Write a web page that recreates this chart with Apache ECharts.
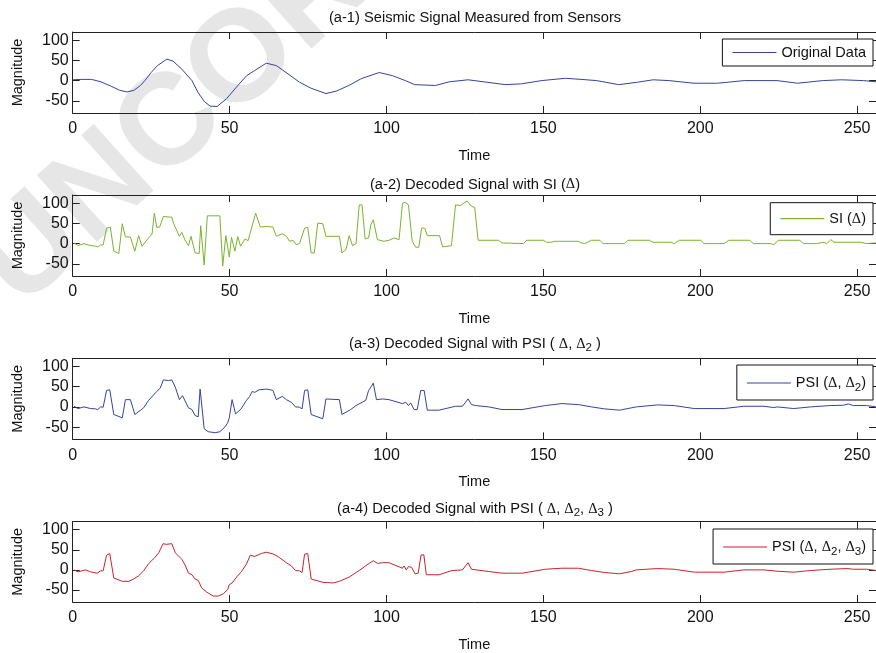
<!DOCTYPE html>
<html>
<head>
<meta charset="utf-8">
<script src="https://cdn.jsdelivr.net/npm/echarts@6/dist/echarts.min.js"></script>
<style>
  html, body { margin: 0; padding: 0; background: #fff; }
  #chart { width: 876px; height: 653px; }
</style>
</head>
<body>
<div id="chart"></div>
<script>
// tick positions
const xTicks = [0, 50, 100, 150, 200, 250];
const yTicks = [-50, 0, 50, 100];

// panel titles (rich text, {s|..} = subscript, {d|..} = delta)
const titles = [
  '(a-1) Seismic Signal Measured from Sensors',
  '(a-2) Decoded Signal with SI ({d|Δ})',
  '(a-3) Decoded Signal with PSI ( {d|Δ}, {d|Δ}{s|2} )',
  '(a-4) Decoded Signal with PSI ( {d|Δ}, {d|Δ}{s|2}, {d|Δ}{s|3} )'
];
const names = ['Original Data', 'SI (Δ)', 'PSI (Δ, Δ2)', 'PSI (Δ, Δ2, Δ3)'];
const colors = ['#35439c', '#7ab32e', '#35439c', '#c8232c'];

// values as [time, magnitude]
const original = [
  [0,2],[3,3],[6,3],[9,-3],[12,-13],[15,-24],[17.3,-28],[19.5,-24],[21.6,-12],[23,0],
  [25,20],[27,37],[30,53],[32,48],[34.8,28],[38,0],[40,-30],[42,-52],[43.8,-63],[46,-64],
  [49,-45],[52.2,-16],[55.4,12],[58,25],[61.7,43],[64.9,37],[68,20],[72.3,-4],[76,-19],
  [80.7,-32],[84,-26],[88,-12],[92,5],[97.7,20],[102,12],[106,0],[109,-10],[115.6,-12],
  [120,-3],[126,2],[132,-4],[137.8,-10],[143,-8],[149.4,0],[157,5.7],[162,3],[167,0],
  [174,-10],[180,-4],[185,2],[190,0],[198,-6.5],[205.5,-6.5],[214,0],[224.5,0],[231,-6.5],
  [239,0],[245,2],[252,0],[256,-3]
];
const si = [
  [0.4,1.6],[1.7,-4.9],[3.6,0],[5.2,-4],[7.3,-6.5],[8,-8.2],[8.9,-3.3],[9.7,-3.3],[10.8,38],
  [12,40.8],[13.1,-18.8],[14.7,-24.5],[15.8,49],[16.8,16.3],[18.4,16.3],[19.8,-18.8],[21,19.6],
  [22.1,-6.5],[22.6,-5],[24.2,14],[25.3,23.7],[26,75],[26.8,40],[27.7,40.8],[28.9,67],[31.6,65],
  [32.1,50.6],[34,18],[34.8,27.8],[35.8,8.2],[36.9,-5],[37.7,18],[39,-22.9],[40.3,-24.5],
  [40.8,44],[41.9,-53],[42.9,68.6],[46.9,68.6],[47.8,-55.5],[48.8,19.6],[49.9,-33.5],[50.6,15.5],
  [51.7,-18.8],[52.6,17.2],[53.5,-6.5],[54.9,11.4],[55.9,7.3],[58.3,75],[58.9,75],[59.8,40.8],
  [61.7,42.5],[63.8,40.8],[64.9,18],[66.8,24.5],[68.1,18],[69.1,5.7],[70.2,8.2],[71.2,-2.4],
  [72.3,0],[72.8,-4.9],[73.9,38.1],[74.9,40.6],[76,-22.9],[77,-22.9],[78.1,50.6],[79.7,49],
  [80.7,18],[85,18],[85.8,-22.9],[87.1,-14.7],[88.1,19.6],[89.2,-4.9],[90.3,0],[91.3,95.6],
  [92.2,95.6],[93.2,11.4],[94.3,14],[95,46.6],[95.8,58.8],[97.1,9.8],[99.2,5.7],[100.8,8.2],
  [102.4,14],[104,9.8],[105.1,99.6],[105.9,102],[107,95.6],[108.2,5.7],[109.3,-9],[110.3,-9],
  [111.2,38.1],[112.2,38.1],[113,19.6],[116.9,19.6],[117.9,-8.2],[120.7,-4.9],[122,95.6],
  [123.5,94],[125.7,105.3],[127.2,91.4],[128.1,89.8],[129.2,8.2],[135.7,8.2],[136.8,1.6],
  [143.6,0],[144.7,8.2],[150,8.2],[151,3.3],[152.6,3.3],[153.7,5.7],[161.1,5.7],[162.1,1.6],
  [163.2,0],[165.3,8.2],[168,8.2],[169,0],[175.9,0],[176.9,8.2],[183.8,8.2],[184.9,3.3],
  [190.6,3.3],[191.7,0],[193.3,8.2],[200.2,8.2],[201.1,0],[207.6,0],[209.1,8.2],[215.8,8.2],
  [216.9,0],[222.4,0],[223.4,-2.4],[225,8.2],[231.7,8.2],[232.9,0],[237.1,0],[239.3,3.3],
  [240.3,0],[241.6,9.8],[242.6,3.3],[250.9,3.3],[253,0],[256,1.6]
];
const psi2 = [
  [0.4,1.6],[1.7,-4.1],[3.6,0],[5.7,-4.1],[7.3,-4.9],[8,-6.5],[8.9,0],[9.7,-0.8],[10.8,40.6],
  [11.8,42.2],[13.1,-18.8],[15.8,-27],[16.8,17.9],[18.4,17.9],[19.8,-18.8],[22.6,-2.4],
  [24.2,16.3],[26.8,38.1],[27.9,46.3],[28.9,66.7],[30.5,65.1],[31.6,66.7],[32.7,48.8],[34,17.9],
  [35,27.7],[36.9,-2.4],[38,-6.5],[39,-21.2],[40,-24.5],[40.6,44],[41.9,-54],[43.2,-61.3],
  [45.4,-63.7],[46.9,-61.3],[48.5,-49.8],[49.4,-39.2],[49.9,-27],[50.8,17.9],[51.9,-17.2],
  [53.5,-6.5],[55.4,16.3],[56.4,26.1],[57.2,38.1],[58,35.9],[59.4,42.2],[61.7,44],[63,42.2],
  [63.8,40.6],[64.9,17.9],[66.8,26.1],[68.1,17.9],[69.7,11.4],[71,0],[72.3,-0.8],[73.1,-4.9],
  [73.9,40.6],[74.9,42.2],[76,-18.8],[79.7,-29.4],[80.7,19.6],[85,17.9],[85.8,-18.8],
  [88.6,-6.5],[90.3,3.3],[93.4,16.3],[94.3,40.6],[95,48.8],[95.8,58.7],[96.8,17.9],[98.8,19.6],
  [100.8,17.9],[105.1,8.2],[106.1,11.4],[107,3.3],[107.7,9.8],[108.8,-6.5],[109.8,-6.5],
  [110.9,40.6],[112,40.6],[113,-8.1],[116.7,-8.1],[122,1.6],[124.2,1.6],[126,19.6],[127.1,5.7],
  [128.4,3.3],[132.6,0],[136.8,-6.5],[143.2,-6.5],[150.6,3.3],[155.9,8.2],[161.2,5.7],
  [165.3,0],[169.5,-4.9],[174.3,-8.1],[178,-2.4],[179.6,0],[186.4,4.9],[191.7,3.3],[198.1,-4.1],
  [207.6,-4.1],[213.9,1.6],[220.3,1.6],[223.4,-1.6],[224.5,0],[229.8,-4.1],[235.1,0],
  [241.4,3.3],[245.6,4.1],[247.2,7.3],[248.8,3.3],[253,3.3],[256,0]
];
const psi3 = [
  [0.4,0],[1.7,-4.9],[4.1,0],[5.7,-4.9],[7.8,-8.2],[8.9,-2.4],[9.7,-2.4],[10.8,36.7],
  [11.8,40.8],[13.1,-20.4],[15.8,-28.5],[17.9,-28.5],[19.4,-22.8],[21,-14.7],[22.6,-2.4],
  [24.2,15.5],[26,29.4],[27.4,42.4],[28.8,65.2],[29.8,63.6],[31.6,65.2],[32.7,42.4],[34.8,26.1],
  [35.8,12.2],[36.9,-8.2],[38,-12.2],[39,-22.8],[40,-26.1],[41.1,-44.8],[42.7,-55.4],
  [44.8,-65.2],[46.4,-65.2],[48,-59.5],[49.4,-48.9],[49.9,-36.7],[50.8,-32.6],[52.4,-16.3],
  [53.8,-4.1],[55.4,14.7],[56.6,36.7],[58,33.4],[60.1,40.8],[61.7,44],[63.8,39.9],[65.4,33.4],
  [68.1,17.9],[69.7,9.8],[71,-1.6],[72.3,-2.4],[73.1,-6.5],[73.9,39.1],[74.9,40.8],[76,-22.8],
  [79.7,-31],[82.9,-32.6],[85,-28.5],[88.1,-17.9],[91.3,-1.6],[94.5,16.3],[95.8,22.8],
  [97.1,16.3],[98.8,17.9],[100.8,17.9],[105.1,4.1],[105.6,9.8],[106.3,0],[107,8.2],[108,6.5],
  [109.1,-9.8],[110.1,-8.2],[111,36.7],[111.9,37.5],[112.7,-12.2],[116.7,-12.2],[120.9,-1.6],
  [124.2,0],[126,17.9],[127.1,1.6],[132.6,-4.1],[136.8,-8.2],[143.2,-8.2],[150.6,1.6],
  [155.9,4.1],[161.2,4.1],[165.3,-1.6],[169.5,-6.5],[174.3,-9.8],[178,-4.1],[179.6,0],
  [186.4,3.3],[191.7,1.6],[198.1,-5.7],[207.6,-5.7],[213.9,0],[220.3,0],[224.5,-3.3],
  [229.8,-5.7],[235.1,-1.6],[241.4,1.6],[246.7,3.3],[248.8,1.6],[253,1.6],[256,-1.6]
];
const panels = [original, si, psi2, psi3];

const font = '"Liberation Sans", Arial, sans-serif';
const richText = {
  d: { fontFamily: '"Liberation Serif", serif', fontSize: 14.5, lineHeight: 20 },
  s: { fontSize: 11.5, lineHeight: 6, verticalAlign: 'bottom' }
};

// layout of the four panels
const gridTops = [32, 195, 358.3, 521.7];
const legendTops = [39, 202.7, 365, 529];
const legendPad = [[6, 7, 6, 10], [6, 7, 6, 10], [7, 7, 6, 10], [7, 7, 6, 10]];
const titleTops = [7.5, 174.5, 334, 499];

function toRich(name) {
  return name.replace(/Δ(\d)/g, '{d|Δ}{s|$1}').replace(/Δ(?![}])/g, '{d|Δ}');
}

const chart = echarts.init(document.getElementById('chart'));

const grid = [], xAxis = [], yAxis = [], series = [], title = [], legend = [];
const axisLine = { show: true, onZero: false, lineStyle: { color: '#222', width: 1 } };

panels.forEach((data, i) => {
  grid.push({ left: 72.7, width: 806.5, top: gridTops[i], height: 81, show: false });

  title.push({
    text: titles[i], left: 475, top: titleTops[i], textAlign: 'center', padding: 0,
    textStyle: { fontFamily: font, fontSize: 14.7, fontWeight: 'normal', color: '#111', lineHeight: 20, rich: richText }
  });

  xAxis.push({
    gridIndex: i, type: 'value', min: 0, max: 256, position: 'bottom',
    axisLine: axisLine,
    axisTick: { inside: true, length: 7, customValues: xTicks, lineStyle: { color: '#222' } },
    axisLabel: { customValues: xTicks, fontFamily: font, fontSize: 16, color: '#111', margin: 8 },
    splitLine: { show: false },
    name: 'Time', nameLocation: 'middle', nameGap: 35,
    nameTextStyle: { fontFamily: font, fontSize: 14.5, color: '#111' }
  });
  xAxis.push({
    gridIndex: i, type: 'value', min: 0, max: 256, position: 'top',
    axisLine: axisLine,
    axisTick: { inside: true, length: 7, customValues: xTicks, lineStyle: { color: '#222' } },
    axisLabel: { show: false }, splitLine: { show: false }
  });

  yAxis.push({
    gridIndex: i, type: 'value', min: -80, max: 120, position: 'left',
    axisLine: axisLine,
    axisTick: { show: true, inside: true, length: 7, customValues: yTicks, lineStyle: { color: '#222' } },
    axisLabel: { customValues: yTicks, fontFamily: font, fontSize: 16, color: '#111', margin: 4 },
    splitLine: { show: false },
    name: 'Magnitude', nameLocation: 'middle', nameGap: 47, nameRotate: 90,
    nameTextStyle: { fontFamily: font, fontSize: 14.5, color: '#111' }
  });
  yAxis.push({
    gridIndex: i, type: 'value', min: -80, max: 120, position: 'right',
    axisLine: axisLine,
    axisTick: { show: true, inside: true, length: 7, customValues: yTicks, lineStyle: { color: '#222' } },
    axisLabel: { show: false }, splitLine: { show: false }
  });

  series.push({
    name: names[i], type: 'line', xAxisIndex: i * 2, yAxisIndex: i * 2,
    data: data, symbol: 'none', animation: false,
    lineStyle: { color: colors[i], width: 1 }, itemStyle: { color: colors[i] }
  });

  legend.push({
    data: [names[i]], right: 3, top: legendTops[i], padding: legendPad[i],
    icon: 'rect', itemWidth: 44, itemHeight: 1.2,
    borderColor: '#111', borderWidth: 1, borderRadius: 0, backgroundColor: '#fff',
    formatter: toRich,
    textStyle: { fontFamily: font, fontSize: 14.5, color: '#111', lineHeight: i > 1 ? 22 : 14, rich: richText }
  });
});

chart.setOption({
  animation: false,
  backgroundColor: '#fff',
  textStyle: { fontFamily: font },
  graphic: [{
    type: 'text', x: 40, y: 332, rotation: 42 * Math.PI / 180, z: -10, silent: true,
    style: { text: 'UNCORRECTED PROOF', font: 'bold 130px "Liberation Sans"', fill: '#e6e6e6', verticalAlign: 'bottom' }
  }],
  title, grid, xAxis, yAxis, legend, series
});
</script>
</body>
</html>
